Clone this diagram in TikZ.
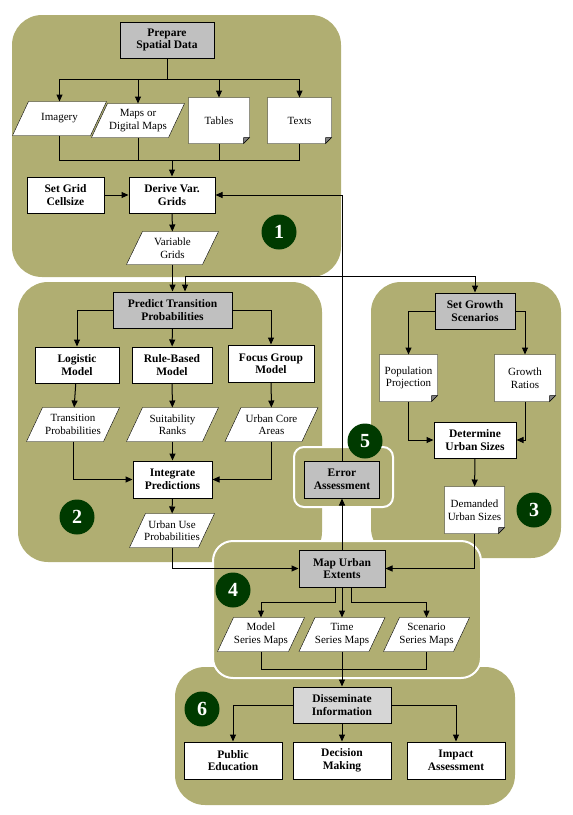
\documentclass[tikz,border=0pt]{standalone}
\usepackage{fontspec}
\setmainfont{Liberation Serif}
\usetikzlibrary{arrows.meta,backgrounds}
\definecolor{zoneColor}{RGB}{176,174,114}
\definecolor{keyColor}{HTML}{C0C0C0}
\definecolor{lightColor}{HTML}{D6D6D6}
\definecolor{numColor}{HTML}{003A00}
\newcommand{\boxfont}{\fontsize{11}{12.5}\selectfont}
\newcommand{\taskfont}{\fontsize{11.5}{12.5}\selectfont\bfseries}
\tikzset{
	zone/.style={fill=zoneColor, rounded corners=30pt},
	subzone/.style={zone, draw=white, line width=2pt, rounded corners=#1},
	task/.style={draw, fill=white, align=center, font=\taskfont, minimum height=36pt, inner sep=1pt},
	keytask/.style={task, fill=keyColor},
	data/.style={align=center, font=\boxfont, minimum height=33pt, inner sep=0pt},
	doc/.style={align=center, font=\boxfont, inner sep=1pt, minimum height=46pt},
	stage/.style={circle, fill=numColor, text=white, font=\fontsize{20}{20}\selectfont\bfseries,
		minimum size=35pt, inner sep=0pt}
}

\begin{document}
\begin{tikzpicture}[x=1pt, y=-1pt, line width=1pt, >={Triangle[length=7pt,width=6pt]}]
	\useasboundingbox (0,0) rectangle (573,815);
	% stage areas
	\begin{scope}[on background layer]
		\fill[zone] (12,15) rectangle (341,277);
		\fill[zone] (18,282) rectangle (322,562);
		\fill[zone] (371,282) rectangle (561,558);
		\fill[zone] (175,667) rectangle (515,805);
		\filldraw[subzone=20pt] (213,541) rectangle (481,678);
		\filldraw[subzone=10pt] (294,447) rectangle (393,507);
	\end{scope}

	% 1
	\node[keytask, minimum width=94pt] (prep) at (167,40) {Prepare\\Spatial Data};
	\node[data, minimum width=77pt] (imagery) at (59.5,118.5) {Imagery};
	\node[data, minimum width=76pt] (maps) at (138,120.5) {Maps or\\Digital Maps};
	\node[doc, minimum width=60pt, minimum height=45pt] (tables) at (219,120.5) {Tables};
	\node[doc, minimum width=63pt, minimum height=45pt] (texts) at (299.5,120.5) {Texts};
	\node[task, minimum width=77pt] (cell) at (65.5,195) {Set Grid\\Cellsize};
	\node[task, minimum width=86pt] (derive) at (172,195) {Derive Var.\\Grids};
	\node[data, minimum width=75pt, minimum height=32pt] (vargrid) at (172.5,248) {Variable\\Grids};
	\node[stage] (one) at (279,232) {1};

	% 2
	\node[keytask, minimum width=119pt] (predict) at (172.5,310) {Predict Transition\\Probabilities};
	\node[task, minimum width=84pt] (logit) at (77,365) {Logistic\\Model};
	\node[task, minimum width=80pt] (rule) at (172,365) {Rule-Based\\Model};
	\node[task, minimum width=86pt, minimum height=37pt] (focus) at (271,363.5) {Focus Group\\Model};
	\node[data, minimum width=76pt] (trans) at (73,424.5) {Transition\\Probabilities};
	\node[data, minimum width=75pt] (suit) at (172.5,424.5) {Suitability\\Ranks};
	\node[data, minimum width=76pt] (core) at (271.5,424.5) {Urban Core\\Areas};
	\node[task, minimum width=79pt, minimum height=37pt] (integ) at (172.5,479.5) {Integrate\\Predictions};
	\node[data, minimum width=68pt] (urbuse) at (172,530.5) {Urban Use\\Probabilities};
	\node[stage] (two) at (77,517) {2};

	% 3
	\node[keytask, minimum width=80pt] (growth) at (475,311) {Set Growth\\Scenarios};
	\node[doc, minimum width=57pt] (pop) at (408.5,378) {Population\\Projection};
	\node[doc, minimum width=60pt] (ratio) at (525,378) {Growth\\Ratios};
	\node[task, minimum width=82pt] (sizes) at (475,440) {Determine\\Urban Sizes};
	\node[doc, minimum width=59pt] (demand) at (474.5,510) {Demanded\\Urban Sizes};
	\node[stage] (three) at (534,510) {3};

	% 5
	\node[keytask, minimum width=75pt, minimum height=37pt] (error) at (342,479.5) {Error\\Assessment};
	\node[stage] (five) at (365,441) {5};

	% 4
	\node[keytask, minimum width=86pt, minimum height=37pt] (mapurb) at (342,568.5) {Map Urban\\Extents};
	\node[data, minimum width=70pt] (model) at (261,634.5) {Model\\Series Maps};
	\node[data, minimum width=69pt] (time) at (342,634.5) {Time\\Series Maps};
	\node[data, minimum width=69pt] (scen) at (426.5,634.5) {Scenario\\Series Maps};
	\node[stage] (four) at (233,590) {4};

	% 6
	\node[task, fill=lightColor, minimum width=98pt] (dissem) at (342,705) {Disseminate\\Information};
	\node[task, minimum width=98pt, minimum height=37pt] (public) at (233,760.5) {Public\\Education};
	\node[task, minimum width=98pt, minimum height=37pt] (decision) at (342,760.5) {Decision\\Making};
	\node[task, minimum width=98pt, minimum height=37pt] (impact) at (456,760.5) {Impact\\Assessment};
	\node[stage] (six) at (202,709) {6};

	\begin{scope}[on background layer]
		% data: parallelograms
		\foreach \p in {imagery,maps,vargrid,trans,suit,core,urbuse,model,time,scen}
			\filldraw[fill=white] ([xshift=-8pt]\p.south west) -- ([xshift=8pt]\p.north west)
				-- ([xshift=8pt]\p.north east) -- ([xshift=-8pt]\p.south east) -- cycle;
		% documents with a folded corner
		\foreach \d in {tables,texts,pop,ratio,demand}{
			\filldraw[fill=white] (\d.north west) -- (\d.north east) -- ([yshift=6pt]\d.south east)
				-- ([xshift=-6pt]\d.south east) -- (\d.south west) -- cycle;
			\filldraw[fill=gray, line width=0.5pt] ([xshift=-6pt]\d.south east) -- ([yshift=6pt]\d.south east)
				-- ([xshift=-6pt,yshift=6pt]\d.south east) -- cycle;
		}
	\end{scope}

	\coordinate (split1) at (167,79);
	\coordinate (join1) at (172,160);
	\coordinate (fbk) at (342,276);
	\coordinate (join4) at (342,669);

	\draw (prep) -- (split1);
	\foreach \t in {imagery,maps,tables,texts}
		\draw[->] (split1) -| (\t);
	\foreach \s in {imagery,maps,tables,texts}
		\draw (\s) |- (join1);
	\draw[->] (join1) -- (derive);
	\draw[->] (cell) -- (derive);
	\draw[->] (derive) -- (vargrid);
	\draw[->] (vargrid) -- (predict);
	\draw[->] (error) |- (derive);
	\draw[->] (fbk) -| ([xshift=12.5pt]predict.north);
	\draw[->] (fbk) -| (growth);

	\draw[->] (predict.west) -| (logit);
	\draw[->] (predict) -- (rule);
	\draw[->] (predict.east) -| (focus);
	\draw[->] (logit) -- (trans);
	\draw[->] (rule) -- (suit);
	\draw[->] (focus) -- (core);
	\draw[->] (trans) |- (integ);
	\draw[->] (suit) -- (integ);
	\draw[->] (core) |- (integ);
	\draw[->] (integ) -- (urbuse);
	\draw[->] (urbuse) |- (mapurb);

	\draw[->] (growth.west) -| (pop);
	\draw[->] (growth.east) -| (ratio);
	\draw[->] (pop) |- (sizes);
	\draw[->] (ratio) |- (sizes);
	\draw[->] (sizes) -- (demand);
	\draw[->] (demand) |- (mapurb);

	\draw[->] (mapurb) -- (error);
	\draw[->] ([xshift=-7pt]mapurb.south) -- ++(0,15) -| (model);
	\draw[->] (mapurb) -- (time);
	\draw[->] ([xshift=9pt]mapurb.south) -- ++(0,15) -| (scen);
	\draw (model) |- (join4);
	\draw (scen) |- (join4);
	\draw[->] (time) -- (dissem);

	\draw[->] (dissem.west) -| (public);
	\draw[->] (dissem) -- (decision);
	\draw[->] (dissem.east) -| (impact);
\end{tikzpicture}
\end{document}
